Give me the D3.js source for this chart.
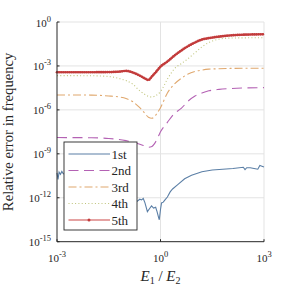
<!DOCTYPE html>
<html>
<head>
<meta charset="utf-8">
<script src="https://cdn.jsdelivr.net/npm/d3@7"></script>
<style>
  body { margin: 0; background: #fff; }
  svg { display: block; }
  text { font-family: "Liberation Serif", "Times New Roman", serif; fill: #262626; }
</style>
</head>
<body>
<div id="chart"></div>
<script>
// log10 of E1/E2 for the smooth modes (2nd..5th)
const ratioExp = [-3, -2, -1.5, -1.2, -1.0, -0.8, -0.6, -0.45, -0.35, -0.25, -0.12, 0, 0.2, 0.4, 0.6, 0.8, 1.0, 1.2, 1.4, 1.7, 2.0, 2.5, 3]
// log10 of relative error
const err2Exp = [-7.89, -7.9, -7.95, -8.02, -8.1, -8.2, -8.35, -8.47, -8.55, -8.5, -8.1, -7.5, -6.85, -6.25, -5.9, -5.4, -5.05, -4.85, -4.7, -4.6, -4.55, -4.5, -4.48]
const err3Exp = [-4.98, -4.99, -5.05, -5.12, -5.22, -5.45, -5.85, -6.25, -6.5, -6.57, -6.3, -5.85, -4.85, -4.25, -3.85, -3.55, -3.38, -3.28, -3.22, -3.19, -3.17, -3.16, -3.16]
const err4Exp = [-3.66, -3.67, -3.72, -3.86, -4.0, -4.25, -4.7, -4.95, -5.08, -5.12, -5.0, -4.75, -3.9, -3.2, -2.85, -2.5, -2.1, -1.7, -1.4, -1.17, -1.1, -1.08, -1.07]
const err5Exp = [-3.43, -3.43, -3.42, -3.39, -3.34, -3.45, -3.66, -3.86, -3.96, -3.72, -3.38, -3.05, -2.7, -2.3, -1.95, -1.65, -1.4, -1.2, -1.1, -1.0, -0.92, -0.86, -0.84]

// the 1st mode is noisy, read on its own grid
const ratio1Exp = [-3, -2.97, -2.94, -2.9, -2.86, -2.82, -2.7, -2.5, -2.2, -1.9, -1.6, -1.3, -1.0, -0.8, -0.68, -0.6, -0.55, -0.5, -0.45, -0.38, -0.32, -0.26, -0.2, -0.14, -0.1, -0.06, -0.035, 0, 0.03, 0.08, 0.13, 0.2, 0.28, 0.35, 0.5, 0.7, 0.9, 1.2, 1.5, 1.8, 2.1, 2.4, 2.45, 2.5, 2.6, 2.75, 2.82, 2.88, 2.94, 3]
const err1Exp = [-10.3, -10.75, -10.25, -10.4, -10.2, -10.35, -10.5, -10.6, -10.8, -11.0, -11.3, -11.6, -11.9, -12.1, -12.25, -12.1, -12.15, -12.05, -12.35, -12.95, -12.75, -12.55, -12.7, -12.65, -12.95, -13.3, -13.5, -12.8, -12.35, -12.3, -12.14, -11.95, -11.6, -11.4, -11.1, -10.7, -10.47, -10.22, -10.1, -10.05, -10.0, -9.92, -10.08, -9.95, -9.95, -10.02, -10.05, -9.8, -9.85, -9.9]

const seriesNames = ['1st', '2nd', '3rd', '4th', '5th']
const seriesColors = ['#5b7fa6', '#b462b4', '#e0a86e', '#bfc47a', '#cc4646']
const seriesDash = [null, '10,5.5', '8,3,2,3', '1,2.3', null]
const xTickExp = [-3, 0, 3]
const yTickExp = [0, -3, -6, -9, -12, -15]

const W = 291, H = 291
const plotL = 57, plotR = 264, plotT = 22, plotB = 241.7

const svg = d3.select('#chart').append('svg')
    .attr('width', W)
    .attr('height', H)

const x = d3.scaleLog().domain([1e-3, 1e3]).range([plotL, plotR])
const y = d3.scaleLog().domain([1e-15, 1]).range([plotB, plotT])

// grid
svg.append('g').selectAll('line')
    .data(yTickExp.filter(e => e > -15))
    .join('line')
    .attr('x1', plotL).attr('x2', plotR)
    .attr('y1', e => y(10 ** e)).attr('y2', e => y(10 ** e))
    .attr('stroke', '#e3e3e3').attr('stroke-width', 1)
svg.append('g').selectAll('line')
    .data(xTickExp.filter(e => e > -3))
    .join('line')
    .attr('x1', e => x(10 ** e)).attr('x2', e => x(10 ** e))
    .attr('y1', plotT).attr('y2', plotB)
    .attr('stroke', '#e3e3e3').attr('stroke-width', 1)

// series
const toPts = (xs, ys) => xs.map((e, i) => [10 ** e, 10 ** ys[i]])
const allSeries = [
    toPts(ratio1Exp, err1Exp),
    toPts(ratioExp, err2Exp),
    toPts(ratioExp, err3Exp),
    toPts(ratioExp, err4Exp),
    toPts(ratioExp, err5Exp)
]

const smooth = d3.line().x(d => x(d[0])).y(d => y(d[1])).curve(d3.curveMonotoneX)
const rough = d3.line().x(d => x(d[0])).y(d => y(d[1]))

const paths = svg.append('g').selectAll('path')
    .data(allSeries)
    .join('path')
    .attr('d', (d, i) => i === 0 ? rough(d) : smooth(d))
    .attr('fill', 'none')
    .attr('stroke', (d, i) => seriesColors[i])
    .attr('stroke-width', (d, i) => i === 4 ? 1.6 : 1.1)
    .attr('stroke-dasharray', (d, i) => seriesDash[i])

// dense markers along the 5th mode
const p5 = paths.nodes()[4]
const len = p5.getTotalLength()
const marks = d3.range(0, len, 2.1).map(l => p5.getPointAtLength(l))
svg.append('g').selectAll('circle')
    .data(marks)
    .join('circle')
    .attr('cx', d => d.x).attr('cy', d => d.y)
    .attr('r', 1.35)
    .attr('fill', '#c23b3b')

// axes lines
svg.append('line').attr('x1', plotL).attr('x2', plotL).attr('y1', plotT).attr('y2', plotB)
    .attr('stroke', '#262626').attr('stroke-width', 1)
svg.append('line').attr('x1', plotL).attr('x2', plotR).attr('y1', plotB).attr('y2', plotB)
    .attr('stroke', '#262626').attr('stroke-width', 1)

// inward ticks
svg.append('g').selectAll('line')
    .data(yTickExp)
    .join('line')
    .attr('x1', plotL).attr('x2', plotL + 2.5)
    .attr('y1', e => y(10 ** e)).attr('y2', e => y(10 ** e))
    .attr('stroke', '#262626')
svg.append('g').selectAll('line')
    .data(xTickExp)
    .join('line')
    .attr('x1', e => x(10 ** e)).attr('x2', e => x(10 ** e))
    .attr('y1', plotB).attr('y2', plotB - 2.5)
    .attr('stroke', '#262626')

// tick labels
const powLabel = (sel) => {
    sel.append('tspan').text('10')
    sel.append('tspan').text(e => e).attr('font-size', 8.5).attr('dy', -5)
}
svg.append('g').selectAll('text')
    .data(xTickExp)
    .join('text')
    .attr('x', e => x(10 ** e))
    .attr('y', 262)
    .attr('text-anchor', 'middle')
    .attr('font-size', 11)
    .call(powLabel)
svg.append('g').selectAll('text')
    .data(yTickExp)
    .join('text')
    .attr('x', 51)
    .attr('y', e => y(10 ** e) + 4.5)
    .attr('text-anchor', 'end')
    .attr('font-size', 11)
    .call(powLabel)

// axis titles
svg.append('text')
    .attr('transform', `translate(12.5, ${(plotT + plotB) / 2}) rotate(-90)`)
    .attr('text-anchor', 'middle')
    .attr('font-size', 14.7)
    .text('Relative error in frequency')

const xl = svg.append('text')
    .attr('x', (plotL + plotR) / 2)
    .attr('y', 281)
    .attr('text-anchor', 'middle')
    .attr('font-size', 15)
xl.append('tspan').attr('font-style', 'italic').text('E')
xl.append('tspan').attr('font-size', 10).attr('dy', 3).text('1')
xl.append('tspan').attr('dy', -3).text(' / ')
xl.append('tspan').attr('font-style', 'italic').text('E')
xl.append('tspan').attr('font-size', 10).attr('dy', 3).text('2')

// legend
const lg = svg.append('g')
lg.append('rect')
    .attr('x', 64).attr('y', 142).attr('width', 73).attr('height', 88)
    .attr('fill', '#fff').attr('stroke', '#262626').attr('stroke-width', 0.9)
const rows = lg.selectAll('g')
    .data(seriesNames)
    .join('g')
    .attr('transform', (d, i) => `translate(0, ${154 + i * 16.5})`)
rows.append('line')
    .attr('x1', 68.5).attr('x2', 110)
    .attr('stroke', (d, i) => seriesColors[i])
    .attr('stroke-width', 1.1)
    .attr('stroke-dasharray', (d, i) => seriesDash[i])
rows.filter((d, i) => i === 4).append('circle')
    .attr('cx', 89).attr('r', 1.5).attr('fill', '#c23b3b')
rows.append('text')
    .attr('x', 111.5)
    .attr('y', 4.5)
    .attr('font-size', 13)
    .text(d => d)
</script>
</body>
</html>
